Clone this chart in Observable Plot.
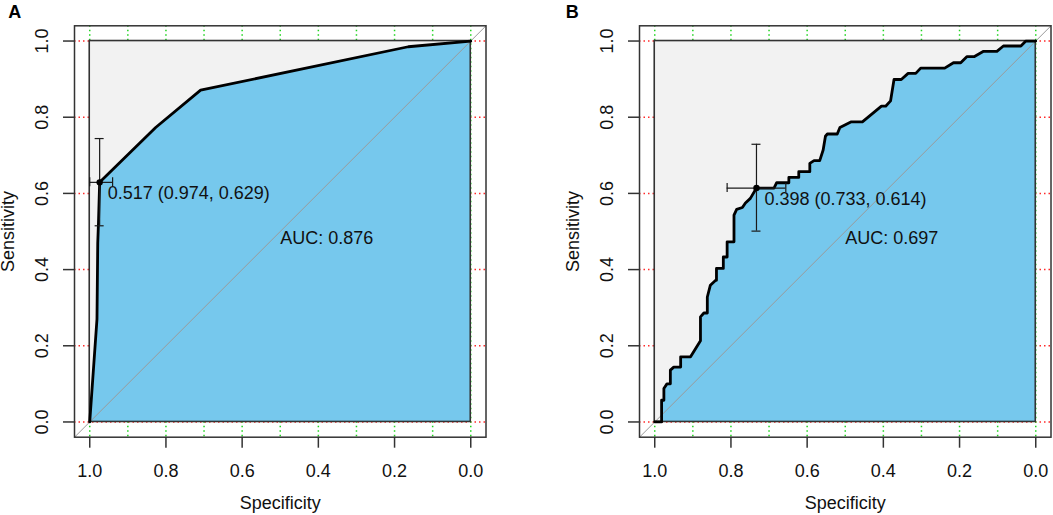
<!DOCTYPE html>
<html>
<head>
<meta charset="utf-8">
<script src="https://cdn.jsdelivr.net/npm/d3@7"></script>
<script src="https://cdn.jsdelivr.net/npm/@observablehq/plot@0.6"></script>
<style>
  body { margin: 0; background: #fff; }
  #wrap { display: flex; width: 1053px; height: 515px; }
  #wrap svg { flex: none; }
</style>
</head>
<body>
<div id="wrap"></div>
<script>
// ---- data ----
const axisLimits = [-0.04, 1.04];
const unitSquare = [0, 1];
const xTicks = [0, 0.2, 0.4, 0.6, 0.8, 1.0];
const yTicks = [0, 0.2, 0.4, 0.6, 0.8, 1.0];
const xGrid = [0, 0.1, 0.2, 0.3, 0.4, 0.5, 0.6, 0.7, 0.8, 0.9, 1.0];
const yGrid = [0, 0.2, 0.4, 0.6, 0.8, 1.0];
const panelLabels = ["A", "B"];

// Panel A ROC curve (specificity, sensitivity)
const specA = [1, 0.981, 0.979, 0.977, 0.974, 0.827, 0.709, 0.164, 0];
const sensA = [0, 0.27, 0.47, 0.525, 0.629, 0.773, 0.871, 0.985, 1];

// Panel B ROC curve (specificity, sensitivity)
const specB = [1, 0.982, 0.982, 0.976, 0.976, 0.968, 0.959, 0.959, 0.95, 0.932, 0.932, 0.906, 0.880, 0.880, 0.871, 0.862, 0.862, 0.854, 0.840, 0.838, 0.838, 0.820, 0.820, 0.810, 0.810, 0.792, 0.792, 0.785, 0.770, 0.762, 0.749, 0.733, 0.687, 0.680, 0.648, 0.648, 0.622, 0.622, 0.593, 0.593, 0.582, 0.567, 0.558, 0.552, 0.547, 0.521, 0.514, 0.484, 0.455, 0.405, 0.394, 0.381, 0.372, 0.353, 0.335, 0.315, 0.302, 0.239, 0.216, 0.197, 0.181, 0.162, 0.137, 0.102, 0.085, 0.039, 0.026, 0];
const sensB = [0, 0, 0.057, 0.057, 0.088, 0.100, 0.100, 0.136, 0.144, 0.144, 0.171, 0.171, 0.213, 0.276, 0.286, 0.286, 0.328, 0.359, 0.372, 0.372, 0.403, 0.403, 0.433, 0.433, 0.473, 0.473, 0.543, 0.558, 0.563, 0.575, 0.587, 0.614, 0.614, 0.628, 0.628, 0.642, 0.642, 0.657, 0.657, 0.679, 0.686, 0.686, 0.714, 0.750, 0.756, 0.756, 0.773, 0.788, 0.788, 0.829, 0.829, 0.843, 0.899, 0.899, 0.915, 0.915, 0.929, 0.929, 0.943, 0.943, 0.959, 0.959, 0.973, 0.973, 0.987, 0.987, 1.0, 1.0];

// best threshold + confidence intervals, per panel [A, B]
const bestThreshold = [0.517, 0.398];
const bestSpec = [0.974, 0.733];
const bestSens = [0.629, 0.614];
const specCILow = [0.94, 0.656];
const specCIHigh = [1.0, 0.810];
const sensCILow = [0.515, 0.501];
const sensCIHigh = [0.744, 0.729];
const aucValues = [0.876, 0.697];
const aucTextPos = [0.5, 0.5];

// ---- drawing ----
const FONT = "'Liberation Sans', Arial, Helvetica, sans-serif";
const FS = 18;

function panel(i, spec, sens, m) {
  const curve = spec.map((s, j) => ({spec: s, sens: sens[j]}));
  const best = [{
    spec: bestSpec[i], sens: bestSens[i],
    sLo: specCILow[i], sHi: specCIHigh[i],
    eLo: sensCILow[i], eHi: sensCIHigh[i],
    label: `${bestThreshold[i].toFixed(3)} (${bestSpec[i].toFixed(3)}, ${bestSens[i].toFixed(3)})`
  }];
  const diag = [{x: axisLimits[1], y: axisLimits[0]}, {x: axisLimits[0], y: axisLimits[1]}];
  const ciStroke = {stroke: "#1a1a1a", strokeWidth: 1.2};
  return Plot.plot({
    width: m.width,
    height: 515,
    marginLeft: m.left,
    marginRight: m.right,
    marginTop: 25.3,
    marginBottom: 78.3,
    x: {domain: axisLimits, reverse: true},
    y: {domain: axisLimits},
    style: {fontFamily: FONT, fontSize: FS + "px", color: "#111", background: "#fff", overflow: "visible"},
    marks: [
      Plot.ruleY(yGrid, {stroke: "#ff2a2a", strokeDasharray: "1.5,3", strokeWidth: 1.5}),
      Plot.ruleX(xGrid, {stroke: "#1fd41f", strokeDasharray: "1.5,3", strokeWidth: 1.5}),
      Plot.rect([0], {x1: unitSquare[0], x2: unitSquare[1], y1: unitSquare[0], y2: unitSquare[1], fill: "#f2f2f2"}),
      Plot.areaY(curve, {x: "spec", y1: unitSquare[0], y2: "sens", fill: "#76c8ed"}),
      Plot.line(diag, {x: "x", y: "y", stroke: "#9a9a9a", strokeWidth: 1}),
      Plot.rect([0], {x1: unitSquare[0], x2: unitSquare[1], y1: unitSquare[0], y2: unitSquare[1], fill: "none", stroke: "#333", strokeWidth: 1.6}),
      Plot.line(curve, {x: "spec", y: "sens", stroke: "#000", strokeWidth: 2.8, strokeLinejoin: "round"}),
      // confidence intervals
      Plot.ruleX(best, {x: "spec", y1: "eLo", y2: "eHi", ...ciStroke}),
      Plot.ruleY(best, {y: "sens", x1: "sLo", x2: "sHi", ...ciStroke}),
      Plot.ruleY(best, {y: "eLo", x1: "spec", x2: "spec", insetLeft: -4.5, insetRight: -4.5, ...ciStroke}),
      Plot.ruleY(best, {y: "eHi", x1: "spec", x2: "spec", insetLeft: -4.5, insetRight: -4.5, ...ciStroke}),
      Plot.ruleX(best, {x: "sLo", y1: "sens", y2: "sens", insetTop: -4.5, insetBottom: -4.5, ...ciStroke}),
      Plot.ruleX(best, {x: "sHi", y1: "sens", y2: "sens", insetTop: -4.5, insetBottom: -4.5, ...ciStroke}),
      Plot.dot(best, {x: "spec", y: "sens", r: 3.2, fill: "#000", stroke: "none"}),
      Plot.text(best, {x: "spec", y: "sens", text: "label", textAnchor: "start", lineAnchor: "middle", dx: 8, dy: 11, fontSize: FS, fill: "#111"}),
      Plot.text([`AUC: ${aucValues[i].toFixed(3)}`], {x: () => aucTextPos[0], y: () => aucTextPos[1], text: d => d, textAnchor: "start", lineAnchor: "middle", dy: 7, fontSize: FS, fill: "#111"}),
      // frame & axes
      Plot.frame({stroke: "#333", strokeWidth: 1.5}),
      Plot.axisX({ticks: xTicks, tickSize: 11, tickPadding: 16, tickFormat: d => d.toFixed(1), fontSize: FS, label: null, stroke: "#333", strokeWidth: 1.5, fill: "#111"}),
      Plot.axisY({ticks: yTicks, tickSize: 11, tickFormat: () => "", label: null, stroke: "#333", strokeWidth: 1.5, fill: "none"}),
      Plot.text(yTicks, {y: d => d, text: d => d.toFixed(1), frameAnchor: "left", dx: -32.5, rotate: -90, textAnchor: "middle", lineAnchor: "middle", fontSize: FS, fill: "#111"}),
      Plot.text(["Specificity"], {frameAnchor: "bottom", dy: 66.3, lineAnchor: "middle", fontSize: FS, fill: "#111"}),
      Plot.text(["Sensitivity"], {frameAnchor: "left", dx: -60.5, rotate: -90, textAnchor: "middle", lineAnchor: "bottom", fontSize: FS, fill: "#111"}),
      Plot.text([panelLabels[i]], {frameAnchor: "top-left", dx: m.letterDx, dy: -13.7, textAnchor: "middle", lineAnchor: "middle", fontWeight: "bold", fontSize: FS, fill: "#000"})
    ]
  });
}

const wrap = document.getElementById("wrap");
wrap.appendChild(panel(0, specA, sensA, {width: 530, left: 74, right: 44.5, letterDx: -59.8}));
wrap.appendChild(panel(1, specB, sensB, {width: 523, left: 109, right: 2.5, letterDx: -67.3}));
</script>
</body>
</html>
